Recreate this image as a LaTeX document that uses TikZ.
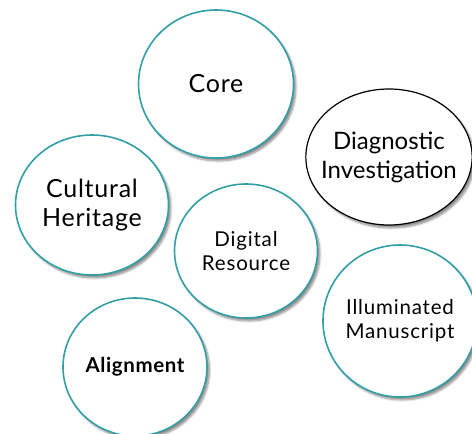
\documentclass[tikz,border=0pt]{standalone}
\usepackage{fontspec}
\setmainfont{Lato}
\usetikzlibrary{shapes.geometric,shadows.blur}
\definecolor{rimteal}{RGB}{50,158,166}
\tikzset{
  topic/.style = {shape=ellipse, draw=rimteal, line width=1.6pt,
                  fill=white, align=center, inner sep=0pt,
                  blur shadow={shadow xshift=2.5pt, shadow yshift=-3pt,
                               shadow blur steps=6, shadow opacity=45}},
  big/.style   = {topic, font=\fontsize{25}{29}\selectfont\addfontfeatures{LetterSpace=3}},
  small/.style = {topic, font=\fontsize{20.5}{24}\selectfont\addfontfeatures{LetterSpace=4}},
  odd/.style   = {topic, font=\fontsize{24}{29}\selectfont, draw=black,
                  line width=1.2pt, inner xsep=-9pt}
}

\begin{document}
\begin{tikzpicture}
  [
    x = 1pt,
    y = -1pt
  ]
  \useasboundingbox (0,0) rectangle (472,434);
  \node [big, minimum width=155pt, minimum height=148pt] (core) at (216,84) {Core};
  \node [odd, minimum width=164pt, minimum height=136pt] (diag) at (389,157) {Diagnostic\\Investigation};
  \node [big, minimum width=153pt, minimum height=140pt] (cult) at (92,205) {Cultural\\Heritage};
  \node [small, minimum width=143pt, minimum height=134pt] (digi) at (246,251) {Digital\\Resource};
  \node [small, minimum width=148pt, minimum height=152pt] (illu) at (400,321) {Illuminated\\Manuscript};
  \node [small, font=\fontsize{20.5}{24}\selectfont\bfseries\addfontfeatures{LetterSpace=3},
         minimum width=144pt, minimum height=138pt] (align) at (135,367) {Alignment};
\end{tikzpicture}
\end{document}
